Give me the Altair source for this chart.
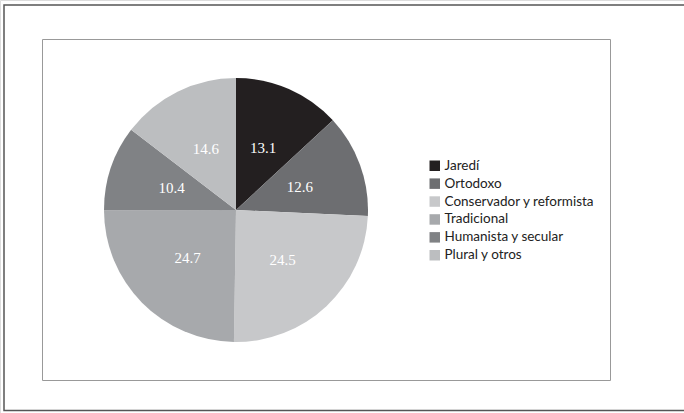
import altair as alt
import pandas as pd

categories = ["Jaredí", "Ortodoxo", "Conservador y reformista", "Tradicional", "Humanista y secular", "Plural y otros"]
values = [13.1, 12.6, 24.5, 24.7, 10.4, 14.6]
labels = ["13.1", "12.6", "24.5", "24.7", "10.4", "14.6"]
colors = ["#231f20", "#6d6e71", "#c7c8ca", "#a7a9ac", "#808285", "#bcbec0"]

df = pd.DataFrame({"cat": categories, "value": values, "label": labels, "ord": list(range(len(categories)))})

W, H = 684, 413
CX, CY, R = 236, 210, 132

outer = alt.Chart(pd.DataFrame({"k": ["o"]})).mark_rect(
    fill=None, stroke="#555555", strokeWidth=1.5
).encode(x=alt.value(4), x2=alt.value(700), y=alt.value(5), y2=alt.value(410.5))
inner = alt.Chart(pd.DataFrame({"k": ["i"]})).mark_rect(
    fill=None, stroke="#999999", strokeWidth=1
).encode(x=alt.value(42.5), x2=alt.value(610.5), y=alt.value(39.5), y2=alt.value(380.5))

base = alt.Chart(df).encode(
    theta=alt.Theta("value:Q", stack=True),
    order=alt.Order("ord:Q", sort="ascending"),
    x=alt.value(CX), y=alt.value(CY),
)

pie = base.mark_arc(outerRadius=R, stroke=None).encode(
    color=alt.Color("cat:N", scale=alt.Scale(domain=categories, range=colors),
                    legend=alt.Legend(title=None, orient="none", legendX=428, legendY=159,
                                      symbolType="square", symbolSize=110, symbolStrokeWidth=0,
                                      labelFont="Lato", labelFontSize=13.5, labelColor="#222222",
                                      rowPadding=2.9, labelOffset=3, labelLimit=300))
)
text = base.mark_text(radius=68, font="Liberation Serif", fontSize=15, color="white").encode(
    text="label:N"
)

chart = alt.layer(outer, inner, pie, text).properties(
    width=W, height=H, padding=0, autosize=alt.AutoSizeParams(type="none")
).configure_view(stroke=None).configure(background="white")

chart.save("out.html", embed_options={"renderer": "svg", "actions": False})
